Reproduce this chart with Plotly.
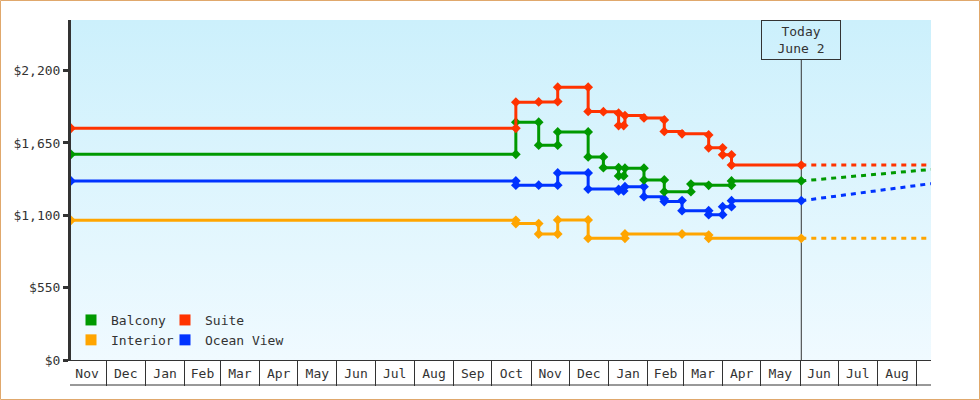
import base64
import plotly.graph_objects as go

# ---------------- data ----------------
x_start = "2017-11-03 08:00"
x_end = "2019-09-12 06:00"
today = "2019-06-02"
today_label = "Today<br>June 2"

y_ticks = [0, 550, 1100, 1650, 2200]
y_tick_text = ["$0", "$550", "$1,100", "$1,650", "$2,200"]
y_max = 2585

suite_dates = ["2017-11-03 08:00", "2018-10-20", "2018-10-20", "2018-11-07", "2018-11-22",
               "2018-11-22", "2018-12-16", "2018-12-16", "2018-12-28", "2019-01-09",
               "2019-01-09", "2019-01-13", "2019-01-14", "2019-01-29", "2019-02-14",
               "2019-02-14", "2019-02-28", "2019-03-21", "2019-03-21", "2019-04-01",
               "2019-04-01", "2019-04-08", "2019-04-08", "2019-06-02"]
suite_prices = [1762, 1762, 1960, 1962, 1965,
                2074, 2074, 1890, 1888, 1876,
                1782, 1782, 1858, 1840, 1825,
                1738, 1720, 1711, 1613, 1613,
                1560, 1560, 1482, 1482]

balcony_dates = ["2017-11-03 08:00", "2018-10-20", "2018-10-20", "2018-11-07", "2018-11-07",
                 "2018-11-22", "2018-11-22", "2018-12-16", "2018-12-16", "2018-12-28",
                 "2018-12-28", "2019-01-09", "2019-01-09", "2019-01-13", "2019-01-14",
                 "2019-01-29", "2019-01-29", "2019-02-14", "2019-02-14", "2019-03-07",
                 "2019-03-07", "2019-03-21", "2019-04-08", "2019-04-08", "2019-06-02"]
balcony_prices = [1564, 1564, 1808, 1808, 1633,
                  1633, 1734, 1734, 1544, 1544,
                  1462, 1462, 1399, 1399, 1458,
                  1458, 1369, 1369, 1280, 1280,
                  1338, 1328, 1328, 1361, 1361]

ocean_dates = ["2017-11-03 08:00", "2018-10-20", "2018-10-20", "2018-11-07", "2018-11-22",
               "2018-11-22", "2018-12-16", "2018-12-16", "2019-01-09", "2019-01-09",
               "2019-01-13", "2019-01-14", "2019-01-29", "2019-01-29", "2019-02-14",
               "2019-02-14", "2019-02-28", "2019-02-28", "2019-03-21", "2019-03-21",
               "2019-04-01", "2019-04-01", "2019-04-08", "2019-04-08", "2019-06-02"]
ocean_prices = [1361, 1361, 1329, 1329, 1329,
                1422, 1422, 1300, 1297, 1285,
                1285, 1318, 1318, 1242, 1225,
                1205, 1212, 1135, 1135, 1105,
                1105, 1166, 1166, 1211, 1211]

interior_dates = ["2017-11-03 08:00", "2018-10-20", "2018-10-20", "2018-11-07", "2018-11-07",
                  "2018-11-22", "2018-11-22", "2018-12-16", "2018-12-16", "2019-01-14",
                  "2019-01-14", "2019-02-28", "2019-03-21", "2019-03-21", "2019-06-02"]
interior_prices = [1062, 1062, 1037, 1037, 958,
                   958, 1065, 1065, 925, 925,
                   958, 958, 950, 925, 925]

proj_dates = [today, x_end]
suite_proj = [1482, 1482]
balcony_proj = [1361, 1449]
ocean_proj = [1211, 1341]
interior_proj = [925, 925]

# ---------------- style ----------------
FONT = "DejaVu Sans Mono"
TXT = "#333333"
C_BAL = "#009900"
C_SUI = "#ff3300"
C_INT = "#ffa500"
C_OCE = "#0033ff"

L, R, T, B = 71, 49, 20, 40
W, H = 980, 400
PW, PH = W - L - R, H - T - B

fig = go.Figure()

series = [
    ("Interior", interior_dates, interior_prices, interior_proj, C_INT),
    ("Ocean View", ocean_dates, ocean_prices, ocean_proj, C_OCE),
    ("Balcony", balcony_dates, balcony_prices, balcony_proj, C_BAL),
    ("Suite", suite_dates, suite_prices, suite_proj, C_SUI),
]
for name, d, p, proj, c in series:
    fig.add_trace(go.Scatter(
        x=proj_dates, y=proj, mode="lines", showlegend=False, hoverinfo="skip",
        line=dict(color=c, width=3, dash="5px,5px")))
    fig.add_trace(go.Scatter(
        x=d, y=p, mode="lines+markers", name=name, showlegend=False,
        line=dict(color=c, width=3, shape="hv"),
        marker=dict(symbol="diamond", size=7.5, color=c)))

# legend entries (square swatches)
for name, c, lg in [("Balcony", C_BAL, "legend"), ("Interior", C_INT, "legend"),
                    ("Suite", C_SUI, "legend2"), ("Ocean View", C_OCE, "legend2")]:
    fig.add_trace(go.Scatter(
        x=[None], y=[None], mode="markers", name=name, legend=lg,
        marker=dict(symbol="square", size=11, color=c)))

# dummy trace to activate the box-tick axis
fig.add_trace(go.Scatter(x=[None], y=[None], xaxis="x2", showlegend=False, hoverinfo="skip"))

svg = ('<svg xmlns="http://www.w3.org/2000/svg" width="100" height="100" preserveAspectRatio="none">'
       '<defs><linearGradient id="g" x1="0" y1="0" x2="0" y2="1">'
       '<stop offset="0" stop-color="#ccf0fc"/><stop offset="1" stop-color="#f0faff"/>'
       '</linearGradient></defs><rect width="100" height="100" fill="url(#g)"/></svg>')
src = "data:image/svg+xml;base64," + base64.b64encode(svg.encode()).decode()

legend_common = dict(
    bgcolor="rgba(0,0,0,0)", borderwidth=0, orientation="v",
    font=dict(family=FONT, size=13, color=TXT), yanchor="top", xanchor="left",
    tracegroupgap=0, itemclick=False, itemdoubleclick=False)

fig.update_layout(
    width=W, height=H,
    margin=dict(l=L, r=R, t=T, b=B),
    paper_bgcolor="white",
    plot_bgcolor="rgba(0,0,0,0)",
    font=dict(family=FONT, size=13, color=TXT),
    images=[dict(source=src, xref="paper", yref="paper", x=0, y=1, sizex=1, sizey=1,
                 sizing="stretch", layer="below", xanchor="left", yanchor="top")],
    xaxis=dict(
        type="date", range=[x_start, x_end], showgrid=False, zeroline=False,
        tick0="2017-11-01", dtick="M1", tickformat="%b", ticklabelmode="period",
        ticks="", showline=True, linecolor=TXT, linewidth=1,
        tickfont=dict(family=FONT, size=13, color=TXT), ticklabelstandoff=1),
    xaxis2=dict(
        type="date", range=[x_start, x_end], overlaying="x", anchor="y", side="bottom",
        showgrid=False, zeroline=False, showline=False, showticklabels=False,
        tick0="2017-11-01", dtick="M1", ticks="outside", ticklen=25, tickwidth=1,
        tickcolor=TXT),
    yaxis=dict(
        range=[0, y_max], tickmode="array", tickvals=y_ticks, ticktext=y_tick_text,
        showgrid=False, zeroline=False, showline=True, linecolor=TXT, linewidth=3,
        ticks="outside", ticklen=5, tickwidth=3, tickcolor=TXT,
        tickfont=dict(family=FONT, size=13, color=TXT)),
    legend=dict(x=(71 - L) / PW, y=(360 - 305) / PH, **legend_common),
    legend2=dict(x=(165 - L) / PW, y=(360 - 305) / PH, **legend_common),
    shapes=[
        dict(type="line", xref="x", yref="paper", x0=today, x1=today, y0=0,
             y1=(360 - 60) / PH, line=dict(color=TXT, width=1), layer="below"),
        dict(type="line", xref="paper", yref="paper", x0=-1 / PW, x1=1,
             y0=-25 / PH, y1=-25 / PH, line=dict(color=TXT, width=1)),
        dict(type="rect", xref="paper", yref="paper",
             x0=(0.5 - L) / PW, x1=(W - 0.5 - L) / PW,
             y0=-(H - 0.5 - T - PH) / PH, y1=1 + (T - 0.5) / PH,
             line=dict(color="#e0a86c", width=1)),
    ],
    annotations=[dict(
        x=today, xref="x", y=1, yref="paper", xanchor="center", yanchor="top",
        text=today_label, showarrow=False, width=78, height=38,
        bordercolor=TXT, borderwidth=1, borderpad=0, bgcolor="rgba(0,0,0,0)",
        font=dict(family=FONT, size=13, color=TXT))],
)

fig.write_html("out.html")
